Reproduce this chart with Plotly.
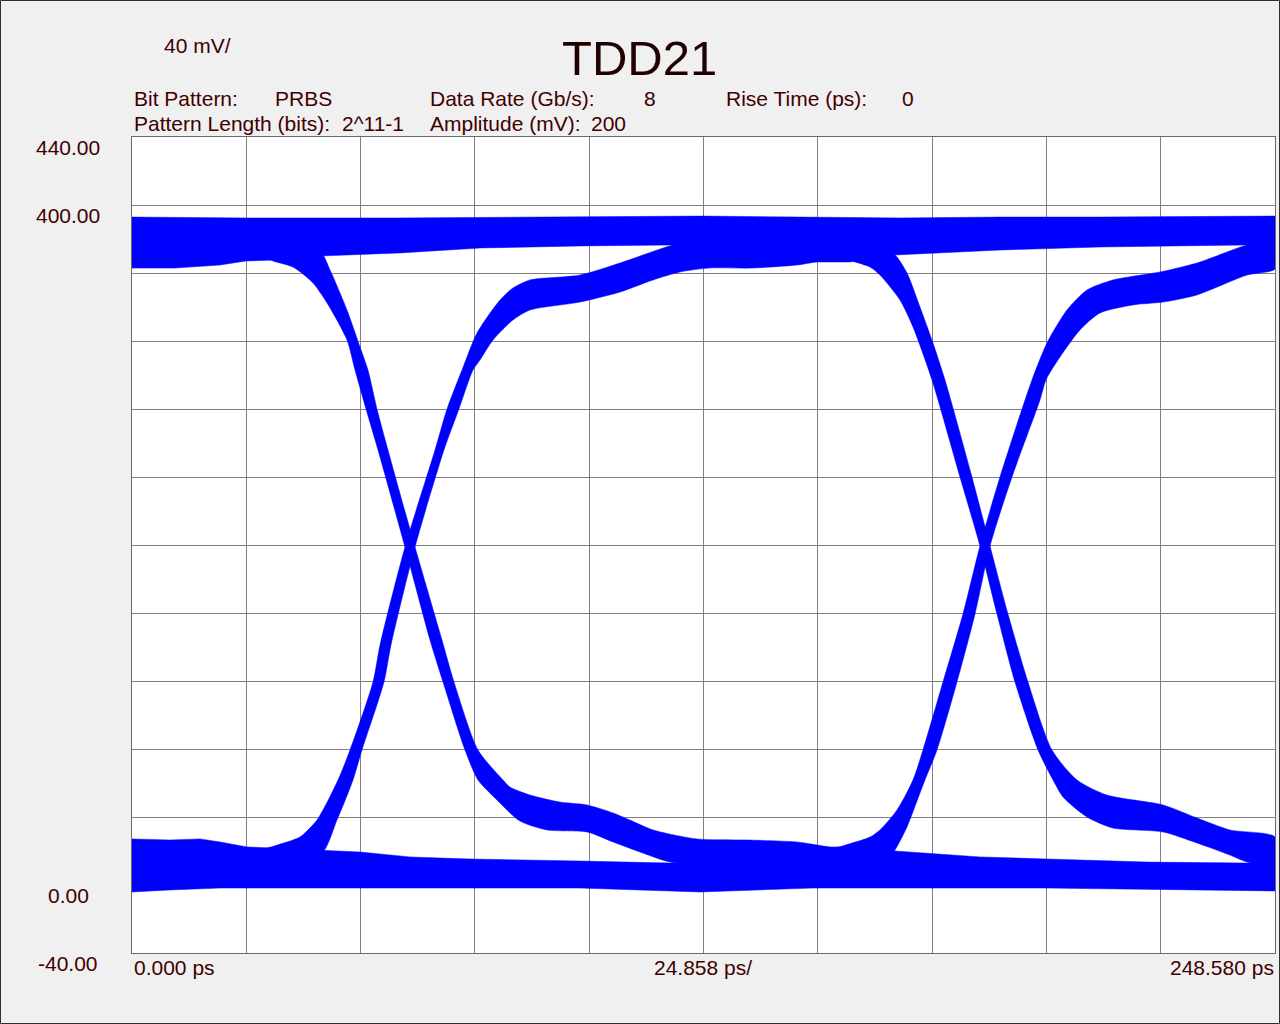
import plotly.graph_objects as go

# ---------------- data (time in ps, voltage in mV) ----------------
title_text = "TDD21"
scale_text = "40 mV/"
x_labels = ["0.000 ps", "24.858 ps/", "248.580 ps"]
y_label_vals = [440, 400, 0, -40]
y_label_text = ["440.00", "400.00", "0.00", "-40.00"]
x_grid = [0, 24.858, 49.716, 74.574, 99.432, 124.29, 149.148, 174.006, 198.864, 223.722, 248.58]
y_grid = [-40, 0, 40, 80, 120, 160, 200, 240, 280, 320, 360, 400, 440]

# steady high band
top_upper_t = [0, 24.79, 58.28, 93.08, 117.66, 124.18, 145.28, 167.02, 188.77, 210.52, 248.58]
top_upper_v = [392.9, 392.4, 392.4, 392.9, 393.5, 393.5, 392.9, 392.4, 392.9, 392.9, 393.5]
top_lower_t = [0, 9.35, 19.14, 24.79, 31.10, 40.89, 58.28, 75.68, 97.43, 117.66, 124.18, 156.15, 165.94, 188.77, 210.52, 242.49, 248.58]
top_lower_v = [362.9, 362.9, 364.7, 367.1, 367.6, 370.0, 371.8, 374.7, 375.9, 376.5, 366.5, 366.5, 370.6, 373.5, 375.3, 376.5, 376.5]

# steady low band
low_upper_t = [0, 8.26, 14.79, 19.14, 25.01, 29.36, 40.89, 49.59, 60.46, 73.51, 97.43, 117.00, 165.94, 184.42, 198.99, 220.74, 242.49, 248.58]
low_upper_v = [27.1, 26.5, 27.1, 25.3, 22.4, 21.8, 20.6, 19.4, 16.5, 15.3, 14.1, 12.9, 20.0, 16.5, 15.3, 13.5, 12.9, 12.9]
low_lower_t = [0, 8.26, 19.14, 40.89, 75.68, 97.43, 123.53, 148.10, 162.67, 198.99, 248.58]
low_lower_v = [-4.1, -2.9, -1.8, -1.8, -1.8, -1.8, -4.1, -1.8, -1.8, -1.8, -3.5]

# first falling edge (outer / inner boundary)
fall1_outer_t = [28.27, 30.66, 35.01, 39.36, 42.41, 46.76, 48.50, 50.89, 53.50, 59.37, 64.81, 67.64, 72.42, 75.25, 79.38, 84.38, 90.25, 98.95, 104.61, 110.48, 117.00, 123.53, 158.33]
fall1_outer_v = [370.6, 367.1, 363.5, 354.1, 342.4, 320.6, 302.9, 280.0, 255.9, 198.8, 144.1, 119.4, 79.4, 61.8, 50.0, 37.6, 32.4, 31.2, 25.3, 19.4, 13.5, 12.4, 12.4]
fall1_inner_t = [40.89, 43.06, 46.76, 49.59, 51.32, 53.28, 55.67, 61.55, 67.42, 70.03, 75.25, 80.68, 82.21, 86.56, 93.08, 98.95, 104.61, 108.31, 113.31, 122.88, 133.75, 144.62, 151.80, 155.50, 158.33]
fall1_inner_v = [372.4, 361.8, 338.2, 316.5, 302.9, 280.0, 255.9, 198.8, 144.1, 119.4, 79.4, 61.8, 57.6, 52.9, 48.8, 47.1, 42.4, 38.2, 32.4, 27.1, 26.5, 25.3, 22.4, 22.4, 20.6]

# first rising edge
rise1_outer_t = [25.66, 29.36, 35.01, 36.54, 40.23, 44.80, 47.41, 52.41, 53.94, 59.37, 65.90, 68.51, 71.77, 75.03, 80.03, 82.86, 86.56, 97.43, 106.13, 117.66, 123.53]
rise1_outer_v = [20.6, 21.8, 26.5, 28.2, 38.2, 61.8, 79.4, 119.4, 141.2, 198.8, 255.9, 280.0, 302.9, 324.7, 344.1, 351.2, 355.9, 358.8, 365.9, 376.5, 379.4]
rise1_inner_t = [40.89, 44.58, 48.06, 50.02, 54.80, 56.33, 61.55, 67.85, 71.11, 74.16, 75.68, 78.51, 82.86, 86.56, 97.43, 106.13, 113.31, 119.18, 125.49, 134.84, 144.62, 150.28, 156.59]
rise1_inner_v = [17.6, 38.2, 61.8, 79.4, 119.4, 141.2, 198.8, 255.9, 280.0, 302.9, 308.8, 320.6, 332.4, 338.2, 342.9, 348.8, 355.9, 360.6, 362.9, 362.9, 364.7, 367.1, 367.6]

# second falling edge
fall2_outer_t = [155.06, 156.59, 160.50, 162.67, 167.02, 169.85, 173.98, 180.07, 184.42, 188.12, 192.03, 197.04, 200.30, 202.47, 207.69, 213.35, 224.22, 231.62, 238.79, 242.49, 248.58]
fall2_outer_v = [368.8, 367.1, 363.5, 358.8, 344.1, 328.2, 297.1, 240.0, 199.4, 159.4, 119.4, 79.4, 61.8, 51.8, 40.0, 33.5, 31.2, 24.7, 17.6, 13.5, 11.2]
fall2_inner_t = [163.76, 165.94, 168.55, 171.37, 174.20, 176.81, 182.68, 186.60, 190.51, 194.86, 200.08, 205.52, 212.04, 224.22, 231.62, 238.79, 248.58]
fall2_inner_v = [372.4, 370.6, 360.0, 340.0, 318.8, 297.1, 240.0, 199.4, 159.4, 119.4, 79.4, 61.8, 52.9, 47.1, 39.4, 32.4, 28.2]

# second rising edge
rise2_outer_t = [151.80, 153.98, 160.50, 162.67, 166.37, 169.85, 172.02, 176.37, 180.72, 184.42, 188.77, 195.73, 198.99, 203.34, 207.69, 213.35, 223.57, 231.62, 242.49, 248.58]
rise2_outer_v = [19.4, 22.4, 28.2, 32.4, 44.1, 61.8, 79.4, 119.4, 159.4, 199.4, 240.0, 297.1, 318.8, 338.2, 350.0, 355.9, 360.6, 365.9, 376.5, 379.4]
rise2_inner_t = [164.85, 165.94, 168.55, 171.37, 172.46, 175.07, 179.42, 183.34, 186.60, 191.38, 197.47, 198.77, 201.82, 206.17, 210.52, 217.70, 224.22, 231.62, 242.49, 248.58]
rise2_inner_v = [17.1, 20.6, 34.1, 54.1, 61.8, 79.4, 119.4, 159.4, 199.4, 240.0, 285.3, 297.1, 310.6, 326.5, 336.5, 341.2, 342.9, 347.1, 358.8, 362.4]

header_row1 = [("Bit Pattern:", 133), ("PRBS", 274), ("Data Rate (Gb/s):", 429), ("8", 643),
               ("Rise Time (ps):", 725), ("0", 901)]
header_row2 = [("Pattern Length (bits):", 133), ("2^11-1", 341), ("Amplitude (mV):", 429), ("200", 590)]

# ---------------- figure ----------------
W, H = 1280, 1024
L, R, T, B = 132, 1275, 137, 953
TXT = "#400000"
FONT = "Liberation Sans, Arial, sans-serif"
FS = 21
BLUE = "#0000ff"


def px(x):
    return (x - L) / (R - L)


def py(y):
    return (B - y) / (B - T)


bands = [
    (top_upper_t, top_upper_v, top_lower_t, top_lower_v, "linear"),
    (low_upper_t, low_upper_v, low_lower_t, low_lower_v, "linear"),
    (fall1_outer_t, fall1_outer_v, fall1_inner_t, fall1_inner_v, "spline"),
    (rise1_outer_t, rise1_outer_v, rise1_inner_t, rise1_inner_v, "spline"),
    (fall2_outer_t, fall2_outer_v, fall2_inner_t, fall2_inner_v, "spline"),
    (rise2_outer_t, rise2_outer_v, rise2_inner_t, rise2_inner_v, "spline"),
]

fig = go.Figure()
for at, av, bt, bv, shp in bands:
    xs = list(at) + list(bt)[::-1] + [at[0]]
    ys = list(av) + list(bv)[::-1] + [av[0]]
    line = dict(color=BLUE, width=0.5, shape=shp)
    if shp == "spline":
        line["smoothing"] = 0.7
    fig.add_trace(go.Scatter(x=xs, y=ys, mode="lines", fill="toself",
                             fillcolor=BLUE, line=line,
                             hoverinfo="skip", showlegend=False))


def txt(s, x, y, xanchor="left", size=FS, color=TXT):
    return dict(text=s, x=px(x), xref="paper", y=py(y), yref="paper",
                xanchor=xanchor, yanchor="middle", showarrow=False, borderpad=0,
                font=dict(family=FONT, size=size, color=color))


ann = []
for v, s in zip(y_label_vals, y_label_text):
    ann.append(dict(text=s, x=px(68), xref="paper", y=v, yref="y", xanchor="center",
                    yanchor="middle", yshift=-10, showarrow=False, borderpad=0,
                    font=dict(family=FONT, size=FS, color=TXT)))
ann.append(txt(x_labels[0], 133, 967, "left"))
ann.append(txt(x_labels[1], 703, 967, "center"))
ann.append(txt(x_labels[2], 1275, 967, "right"))
ann.append(txt(title_text, 639, 58, "center", size=49, color="#200000"))
ann.append(txt(scale_text, 163, 46))
for s, x in header_row1:
    ann.append(txt(s, x, 99))
for s, x in header_row2:
    ann.append(txt(s, x, 123))

shapes = [dict(type="rect", xref="paper", yref="paper",
               x0=px(0.5), x1=px(W - 0.5), y0=py(H - 0.5), y1=py(0.5),
               line=dict(color="#303030", width=1), fillcolor="rgba(0,0,0,0)", layer="below")]

fig.update_layout(
    width=W, height=H,
    margin=dict(l=L, r=W - R, t=T, b=H - B, pad=0),
    paper_bgcolor="#f0f0f0", plot_bgcolor="#ffffff",
    showlegend=False,
    annotations=ann, shapes=shapes,
    xaxis=dict(range=[0, 248.58], tickvals=x_grid, showticklabels=False, ticks="",
               showgrid=True, gridcolor="#808080", gridwidth=1, zeroline=False,
               showline=True, mirror=True, linecolor="#6a6a6a", linewidth=1, fixedrange=True),
    yaxis=dict(range=[-40, 440], tickvals=y_grid, showticklabels=False, ticks="",
               showgrid=True, gridcolor="#808080", gridwidth=1, zeroline=False,
               showline=True, mirror=True, linecolor="#6a6a6a", linewidth=1, fixedrange=True),
)

fig.write_html("out.html", config={"displayModeBar": False},
               post_script="document.body.style.margin='0px';document.body.style.overflow='hidden';")
